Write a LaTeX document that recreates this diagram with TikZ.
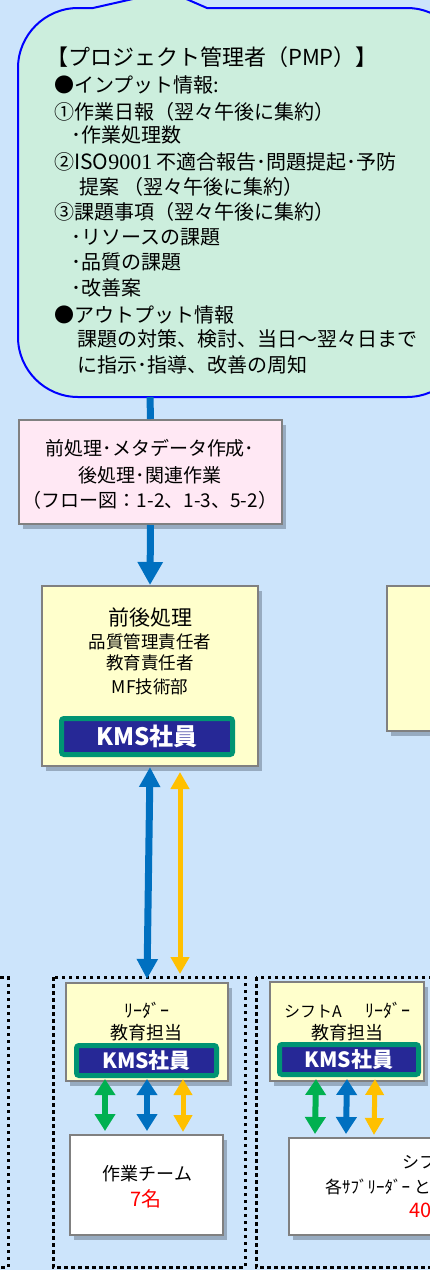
\documentclass[tikz,border=0pt]{standalone}
\usepackage{fontspec}
\setmainfont{Noto Sans CJK JP}
\newfontfamily\serifnum{Liberation Serif}
\usetikzlibrary{arrows.meta,shadows}
\definecolor{bgblue}{RGB}{204,228,251}
\definecolor{calfill}{RGB}{204,238,221}
\definecolor{calline}{RGB}{0,0,255}
\definecolor{pinkfill}{RGB}{255,232,244}
\definecolor{yelfill}{RGB}{255,255,204}
\definecolor{boxgray}{RGB}{128,128,128}
\definecolor{ablue}{RGB}{0,112,192}
\definecolor{ayellow}{RGB}{255,192,0}
\definecolor{agreen}{RGB}{0,176,80}
\definecolor{badgegreen}{RGB}{0,148,115}
\definecolor{badgenavy}{RGB}{38,40,150}
\definecolor{shadowc}{RGB}{100,115,135}
\newcommand\fsz[1]{\fontsize{#1pt}{#1pt}\selectfont}
\begin{document}
\begin{tikzpicture}[x=1pt,y=-1pt,
  box/.style={draw=boxgray, line width=2pt, inner sep=0pt,
    drop shadow={shadow xshift=4pt, shadow yshift=-5pt, opacity=0.5, fill=shadowc}},
  badge/.style={draw=badgegreen, fill=badgenavy, line width=5pt, rounded corners=2.5pt,
    text=white, inner sep=0pt},
  frame/.style={draw=black, line width=3pt, dash pattern=on 3.5pt off 3.5pt},
  txt/.style={inner sep=0pt, anchor=base},
  ltxt/.style={inner sep=0pt, anchor=base west},
  bigblue/.style={line width=7pt, draw=ablue},
  bluedbl/.style={line width=7pt, draw=ablue, {Triangle[length=20pt,width=20pt]}-{Triangle[length=20pt,width=20pt]}},
  yeldbl/.style={line width=5pt, draw=ayellow, {Triangle[length=17pt,width=18pt]}-{Triangle[length=17pt,width=18pt]}},
  sgreen/.style={line width=6pt, draw=agreen, {Triangle[length=16pt,width=20pt]}-{Triangle[length=17pt,width=20pt]}},
  sblue/.style={line width=6pt, draw=ablue, {Triangle[length=16pt,width=20pt]}-{Triangle[length=17pt,width=20pt]}},
  syel/.style={line width=5pt, draw=ayellow, {Triangle[length=16pt,width=18pt]}-{Triangle[length=17pt,width=18pt]}},
]
\useasboundingbox (0,0) rectangle (430,1270);
\clip (0,0) rectangle (430,1270);
\fill[bgblue] (0,0) rectangle (430,1270);

% callout
\draw[calline, fill=calfill, line width=2pt]
  (18,68) .. controls (18,35) and (45,8) .. (78,8) -- (93,8) -- (168,-9) -- (207,8)
  -- (407,8) .. controls (440,8) and (467,35) .. (467,68) -- (467,337)
  .. controls (467,370) and (440,397) .. (407,397) -- (78,397)
  .. controls (45,397) and (18,370) .. (18,337) -- cycle;
\coordinate (pmpb) at (150,397);

\node[ltxt] (p1) at (46,65.4) {\fsz{22}【プロジェクト管理者（PMP）】};
\node[ltxt] (p2) at (54,92.6) {\fsz{20}●インプット情報:};
\node[ltxt] (p3) at (54,119.6) {\fsz{20}①作業日報（翌々午後に集約）};
\node[ltxt] (p4) at (71,142.6) {\fsz{20}･作業処理数};
\node[ltxt] (p5) at (54,169.6) {\fsz{20}②{\fsz{21}ISO}{\serifnum\fsz{22}9001} 不適合報告･問題提起･予防};
\node[ltxt] (p6) at (79,194.6) {\fsz{20}提案 （翌々午後に集約）};
\node[ltxt] (p7) at (54,219.6) {\fsz{20}③課題事項（翌々午後に集約）};
\node[ltxt] (p8) at (71,244.6) {\fsz{20}･リソースの課題};
\node[ltxt] (p9) at (71,269.6) {\fsz{20}･品質の課題};
\node[ltxt] (p10) at (71,295.6) {\fsz{20}･改善案};
\node[ltxt] (p11) at (54,322.6) {\fsz{20}●アウトプット情報};
\node[ltxt] (p12) at (77,346.6) {\fsz{20}課題の対策、検討、当日～翌々日まで};
\node[ltxt] (p13) at (77,372.6) {\fsz{20}に指示･指導、改善の周知};

% dotted frames
\draw[frame] (-150,977) rectangle (8,1267);
\draw[frame] (53,977) rectangle (245,1267);
\draw[frame] (256,977) rectangle (600,1267);

% boxes
\node[box, fill=pinkfill, minimum width=263pt, minimum height=104pt] (pre) at (150.5,472) {};
\node[box, fill=yelfill, minimum width=216pt, minimum height=180pt] (y1) at (150,676) {};
\node[box, fill=yelfill, minimum width=216pt, minimum height=145pt] (y2) at (495,658.5) {};
\node[box, fill=yelfill, minimum width=162pt, minimum height=98pt] (leader) at (147,1032) {};
\node[box, fill=yelfill, minimum width=154pt, minimum height=99pt] (rleader) at (347,1031.5) {};
\node[box, fill=white, minimum width=153pt, minimum height=100pt] (team) at (146.5,1185) {};
\node[box, fill=white, minimum width=250pt, minimum height=97pt] (rteam) at (414,1186.5) {};

% badges
\node[badge, minimum width=171pt, minimum height=36pt] (b1) at (147,736.5) {\fsz{24}\bfseries KMS社員};
\node[badge, minimum width=140pt, minimum height=30pt] (b2) at (146.5,1060.5) {\fsz{21}\bfseries KMS社員};
\node[badge, minimum width=139pt, minimum height=30pt] (b3) at (349,1059.5) {\fsz{21}\bfseries KMS社員};

% texts
\node[txt] (t1) at (150,455.2) {\fsz{19}前処理･メタデータ作成･};
\node[txt] (t2) at (150,482.2) {\fsz{19}後処理･関連作業};
\node[txt] (t3) at (150,507.2) {\fsz{19}（フロー図：1-2、1-3、5-2）};

\node[txt] (t4) at (150,625) {\fsz{21}前後処理};
\node[txt] (t5) at (150,648.7) {\fsz{17.5}品質管理責任者};
\node[txt] (t6) at (150,669.7) {\fsz{17.5}教育責任者};
\node[txt] (t7) at (150,693.7) {\fsz{17.5}MF技術部};

\node[txt] (t8) at (146.5,1017) {\fsz{18}ﾘｰﾀﾞｰ};
\node[txt] (t9) at (146.5,1039) {\fsz{18}教育担当};
\node[txt] (t10) at (347.5,1017) {\fsz{16}シフトA\hspace{24pt}{\fsz{18}ﾘｰﾀﾞｰ}};
\node[txt] (t11) at (347,1039) {\fsz{18}教育担当};

\node[txt] (t12) at (147.5,1180.8) {\fsz{18}作業チーム};
\node[txt, text=red] (t13) at (146,1206.6) {\fsz{20}7名};
\node[ltxt] (t14) at (402,1168.5) {\fsz{17}シフ};
\node[ltxt] (t15) at (325,1193.5) {\fsz{17}各ｻﾌﾞﾘｰﾀﾞｰ と};
\node[ltxt, text=red] (t16) at (409,1217.6) {\fsz{20}40};

% connectors
\draw[bigblue] (pmpb) -- (pre.north);
\draw[bigblue, -{Triangle[length=23pt,width=24pt]}] (pre.south) -- (y1.north);
\draw[bluedbl] (y1.south) -- ([yshift=3pt]leader.north);
\draw[yeldbl] ([xshift=30pt,yshift=-5pt]y1.south) -- ([xshift=33pt,yshift=8pt]leader.north);

\draw[sgreen] ([xshift=-42pt,yshift=3pt]leader.south) -- ([xshift=-41.5pt,yshift=3pt]team.north);
\draw[sblue] ([yshift=3pt]leader.south) -- ([xshift=0.5pt,yshift=3pt]team.north);
\draw[syel] ([xshift=36pt,yshift=3pt]leader.south) -- ([xshift=36.5pt,yshift=2pt]team.north);

\draw[sgreen] ([xshift=-31pt,yshift=3pt]rleader.south) -- ([xshift=27pt,yshift=3pt]rteam.north west);
\draw[sblue] ([yshift=3pt]rleader.south) -- ([xshift=58pt,yshift=3pt]rteam.north west);
\draw[syel] ([xshift=28pt,yshift=3pt]rleader.south) -- ([xshift=86pt,yshift=2pt]rteam.north west);
\end{tikzpicture}
\end{document}
